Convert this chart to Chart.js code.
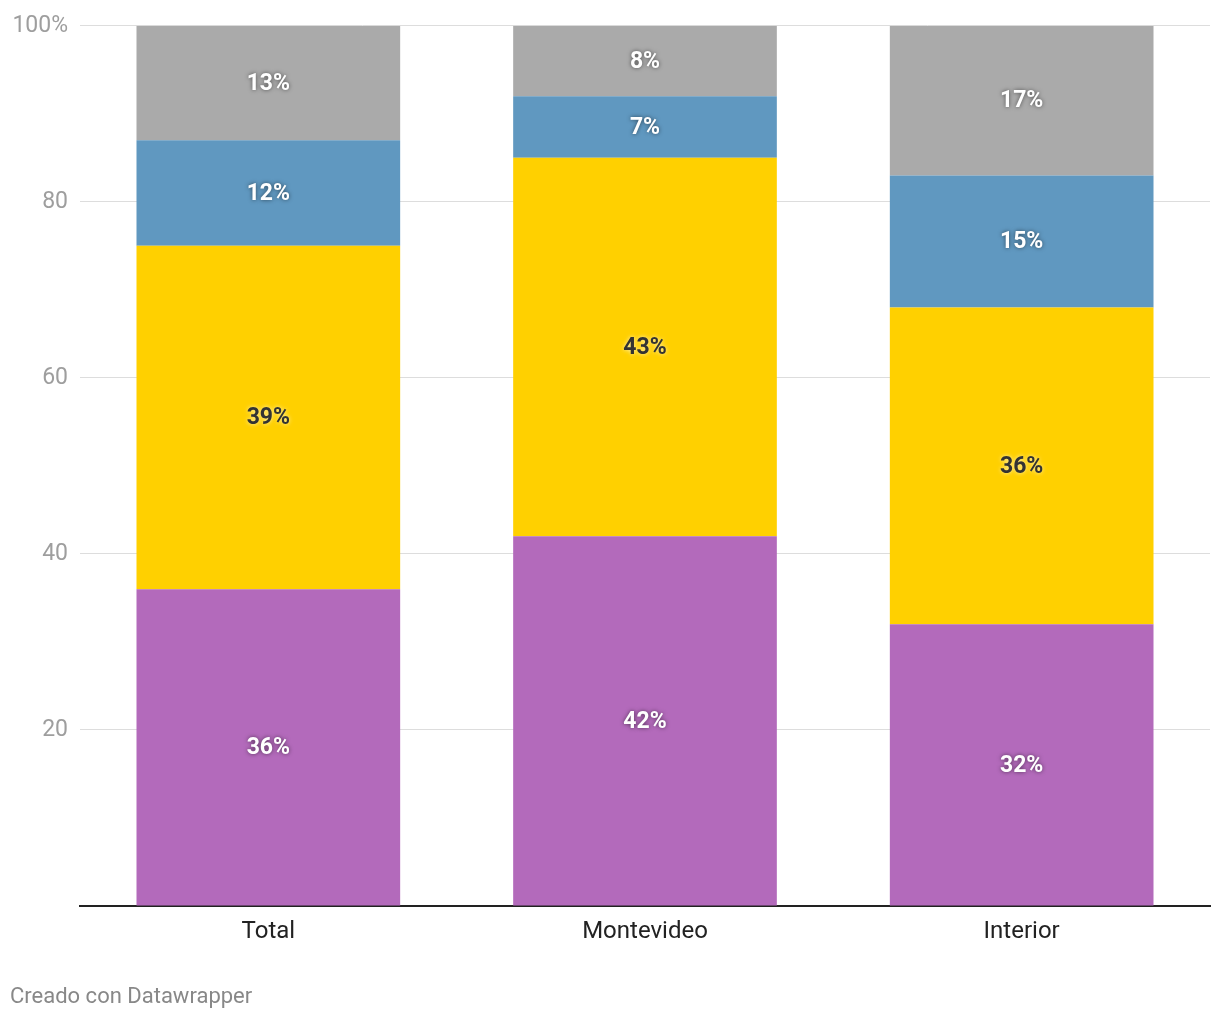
<!DOCTYPE html>
<html>
<head>
<meta charset="utf-8">
<script src="https://cdn.jsdelivr.net/npm/chart.js@4.4.1/dist/chart.umd.min.js"></script>
<style>
  html, body { margin: 0; padding: 0; background: #fff; }
  #wrap { position: relative; width: 1220px; height: 1020px; }
  #fuente {
    position: absolute; left: 10px; top: 983px;
    font-family: Roboto, sans-serif; font-size: 22px; color: #888;
  }
</style>
</head>
<body>
<div id="wrap">
  <canvas id="grafico" width="1220" height="1020"></canvas>
  <div id="fuente">Creado con Datawrapper</div>
</div>
<script>
// Datos
let categorias = ['Total', 'Montevideo', 'Interior'];
let serie1 = [36, 42, 32];
let serie2 = [39, 43, 36];
let serie3 = [12, 7, 15];
let serie4 = [13, 8, 17];
let marcasY = [20, 40, 60, 80, 100];

let colores = ['#b36abb', '#ffd000', '#6098c0', '#aaaaaa'];
let textoOscuro = [false, true, false, false];

// Etiquetas de valor dentro de cada segmento
const etiquetas = {
    id: 'etiquetas',
    afterDatasetsDraw(chart) {
        const ctx = chart.ctx;
        ctx.save();
        ctx.font = 'bold 23px Roboto, sans-serif';
        ctx.textAlign = 'center';
        ctx.textBaseline = 'middle';
        chart.data.datasets.forEach((ds, i) => {
            const meta = chart.getDatasetMeta(i);
            meta.data.forEach((bar, j) => {
                const y = (bar.y + bar.base) / 2;
                if (textoOscuro[i]) {
                    ctx.fillStyle = '#333333';
                    ctx.shadowColor = 'rgba(255,255,255,0.7)';
                } else {
                    ctx.fillStyle = '#ffffff';
                    ctx.shadowColor = 'rgba(0,0,0,0.55)';
                }
                ctx.shadowBlur = 4;
                ctx.fillText(ds.data[j] + '%', bar.x, y + 1);
            });
        });
        ctx.restore();
    }
};

let ctx = document.getElementById('grafico').getContext('2d');
new Chart(ctx, {
    type: 'bar',
    data: {
        labels: categorias,
        datasets: [serie1, serie2, serie3, serie4].map((d, i) => ({
            label: 'Serie ' + (i + 1),
            data: d,
            backgroundColor: colores[i],
            borderWidth: 0,
            barPercentage: 0.7,
            categoryPercentage: 1
        }))
    },
    options: {
        responsive: false,
        animation: false,
        layout: { padding: { left: 0, right: 10, top: 24, bottom: 0 } },
        plugins: { legend: { display: false }, tooltip: { enabled: false } },
        scales: {
            x: {
                stacked: true,
                grid: { display: false },
                border: { display: true, color: '#222222', width: 2 },
                ticks: {
                    padding: 4,
                    color: '#222222',
                    font: { family: 'Roboto, sans-serif', size: 24 }
                },
                afterFit(scale) { scale.height = 114; }
            },
            y: {
                stacked: true,
                min: 0,
                max: 100,
                afterBuildTicks(scale) {
                    scale.ticks = [0].concat(marcasY).map(v => ({ value: v }));
                },
                grid: { color: '#dddddd', lineWidth: 1, drawTicks: false },
                border: { display: false },
                ticks: {
                    padding: 12,
                    color: '#9e9e9e',
                    font: { family: 'Roboto, sans-serif', size: 23 },
                    callback: v => v === 0 ? '' : (v === 100 ? '100%' : v)
                },
                afterFit(scale) { scale.width = 80; }
            }
        }
    },
    plugins: [etiquetas]
});
</script>
</body>
</html>
